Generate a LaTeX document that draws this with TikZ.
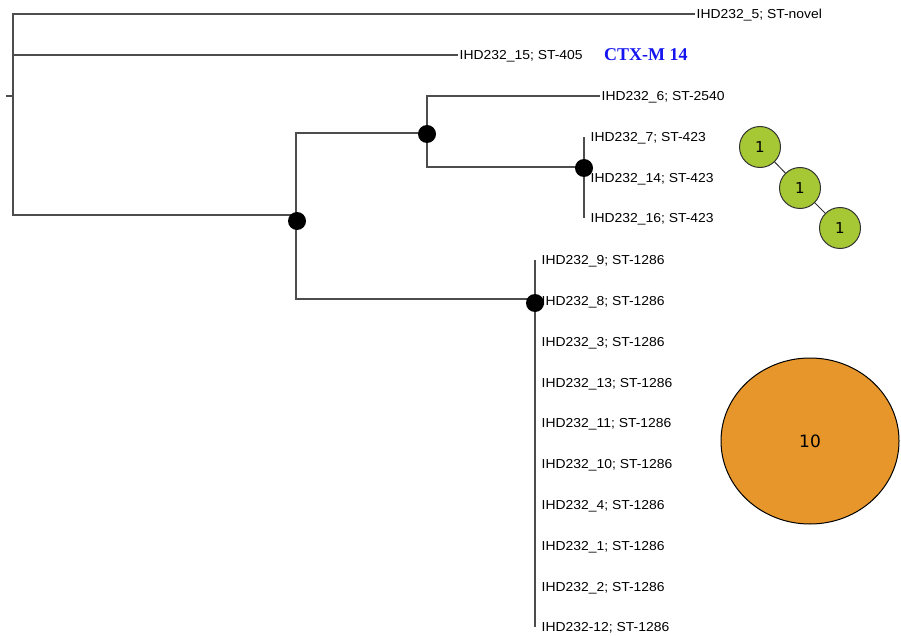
\documentclass[tikz,border=0pt]{standalone}
\usepackage{fontspec}
\usetikzlibrary{shapes.geometric}
\setmainfont{Liberation Serif}
\newfontfamily\tipfont[FakeStretch=1.07]{Liberation Sans}
\newfontfamily\numfont{DejaVu Sans}
\definecolor{branchgray}{HTML}{4D4D4D}
\definecolor{leafgreen}{HTML}{A6C834}
\definecolor{clusterorange}{HTML}{E6962A}
\definecolor{ctxblue}{HTML}{1414F0}
\tikzset{
  branch/.style={draw=branchgray, line width=1.2pt},
  tip/.style={anchor=west, inner sep=1.5pt, text height=9.3pt, text depth=0pt,
    font=\tipfont\fontsize{13}{15}\selectfont},
  split/.style={circle, fill=black, inner sep=0pt, minimum size=18pt},
  stnode/.style={circle, draw=black!80, line width=1pt, fill=leafgreen, inner sep=0pt,
    minimum size=41pt, font=\numfont\fontsize{15}{17}\selectfont},
}
\begin{document}
\begin{tikzpicture}[x=1pt,y=-1pt]
    \useasboundingbox (0,0) rectangle (901,636);
    \coordinate (rt) at (6,96);
    \coordinate (r) at (13,96);
    \coordinate (a) at (296,215);
    \coordinate (b) at (427,133);
    \coordinate (c) at (535,299);
    \coordinate (d) at (584,167);

    \node[tip] (t5) at (695,14) {IHD232\_5; ST-novel};
    \node[tip] (t15) at (458,55) {IHD232\_15; ST-405};
    \node[anchor=west, inner sep=0pt, text=ctxblue, font=\bfseries\fontsize{18}{20}\selectfont] (ctx) at (604,55) {CTX-M 14};
    \node[tip] (t6) at (600,96) {IHD232\_6; ST-2540};
    \foreach \n/\y in {7/137,14/178,16/218}
        \node[tip] (t\n) at (589,\y) {IHD232\_\n; ST-423};
    \foreach \n [count=\i from 0] in {9,8,3,13,11,10,4,1,2}
        \node[tip] (t\n) at (540,{260+40.8*\i}) {IHD232\_\n; ST-1286};
    \node[tip] (t12) at (540,627) {IHD232-12; ST-1286};

    \draw[branch] (rt) -- (r);
    \draw[branch] (r) |- (t5.west);
    \draw[branch] (r) |- (t15.west);
    \draw[branch] (r) |- (a);
    \draw[branch] (a) |- (b);
    \draw[branch] (a) |- (c);
    \draw[branch] (b) |- (t6.west);
    \draw[branch] (b) |- (d);
    \draw[branch] (d |- t7.west) -- (d |- t16.west);
    \draw[branch] (c |- t9.west) -- (c |- t12.west);

    \node[split] (sa) at (297,221) {};
    \node[split] (sb) at (427,134) {};
    \node[split] (sc) at (535,303) {};
    \node[split] (sd) at (584,168) {};

    \node[stnode] (g1) at (760,147) {1};
    \node[stnode] (g2) at (800,188) {1};
    \node[stnode] (g3) at (840,228) {1};
    \draw[black!80, line width=1pt] (g1) -- (g2) (g2) -- (g3);

    \node[ellipse, draw=black, line width=1pt, fill=clusterorange, inner sep=0pt,
        minimum width=178pt, minimum height=166pt, font=\numfont\fontsize{17}{20}\selectfont] (st1286) at (810,441) {10};
\end{tikzpicture}
\end{document}
